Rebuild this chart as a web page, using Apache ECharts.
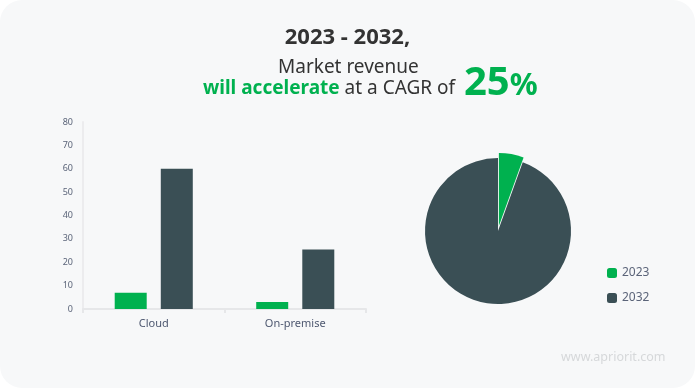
<!DOCTYPE html>
<html>
<head>
<meta charset="utf-8">
<script src="https://cdn.jsdelivr.net/npm/echarts@6/dist/echarts.min.js"></script>
<style>
html,body{margin:0;padding:0;background:#ffffff;}
#c{width:695px;height:388px;}
</style>
</head>
<body>
<div id="c"></div>
<script>
const categories = ['Cloud', 'On-premise'];
const seriesNames = ['2023', '2032'];
const values2023 = [7, 3];
const values2032 = [60, 25.5];
const pieValues = [5.5, 94.5];
const yTicks = {min: 0, max: 80, interval: 10};
const colors = ['#00b14f', '#3a4f55'];

const chart = echarts.init(document.getElementById('c'), null, {renderer: 'canvas'});
const FONT = '"Noto Sans", sans-serif';
chart.setOption({
  animation: false,
  backgroundColor: 'transparent',
  color: colors,
  graphic: [
    {type: 'rect', z: -10, shape: {x: 0, y: 0, width: 695, height: 388, r: 22}, style: {fill: '#f7f8f9'}},
    {type: 'text', left: 'center', top: 27, style: {text: '2023 - 2032,', fontFamily: FONT, fontWeight: 'bold', fontSize: 22, fill: '#333333'}},
    {type: 'text', left: 278, top: 58, style: {text: 'Market revenue', fontFamily: FONT, fontSize: 19, fill: '#333333'}},
    {type: 'text', left: 203, top: 64, style: {
      text: '{g|will accelerate}{n| at a CAGR of }{b|25}{p|%}',
      fontFamily: FONT,
      rich: {
        g: {fontFamily: FONT, fontWeight: 'bold', fontSize: 19, fill: '#00b14f', verticalAlign: 'bottom', padding: [0,0,4,0]},
        n: {fontFamily: FONT, fontSize: 19, fill: '#333333', verticalAlign: 'bottom', padding: [0,0,4,0]},
        b: {fontFamily: FONT, fontWeight: 'bold', fontSize: 40, fill: '#00b14f', verticalAlign: 'bottom', padding: [0,0,-2,4]},
        p: {fontFamily: FONT, fontWeight: 'bold', fontSize: 31, fill: '#00b14f', verticalAlign: 'bottom', padding: [0,0,0,0]}
      }
    }},
    {type: 'text', left: 561, top: 351, style: {text: 'www.apriorit.com', fontFamily: FONT, fontSize: 12.5, fill: '#d6d8da'}}
  ],
  legend: {
    orient: 'vertical', left: 602, top: 262, itemWidth: 10, itemHeight: 10, itemGap: 13,
    icon: 'roundRect',
    data: seriesNames,
    textStyle: {fontFamily: FONT, fontSize: 12, color: '#5b6479'}
  },
  grid: {left: 83, top: 122, width: 283, height: 187},
  xAxis: {
    type: 'category', data: categories,
    axisLine: {lineStyle: {color: '#e6e7e9', width: 2}},
    axisTick: {show: true, length: 4, lineStyle: {color: '#e6e7e9', width: 2}},
    axisLabel: {fontFamily: FONT, fontSize: 11, color: '#4e5870', margin: 9}
  },
  yAxis: {
    type: 'value', min: yTicks.min, max: yTicks.max, interval: yTicks.interval,
    axisLine: {show: true, lineStyle: {color: '#ececee', width: 2}},
    axisTick: {show: false},
    splitLine: {show: false},
    axisLabel: {fontFamily: FONT, fontSize: 9, color: '#5b6479', margin: 10}
  },
  series: [
    {name: seriesNames[0], type: 'bar', data: values2023, barWidth: 32, barGap: '44%', itemStyle: {color: colors[0]}},
    {name: seriesNames[1], type: 'bar', data: values2032, barWidth: 32, itemStyle: {color: colors[1]}},
    {
      type: 'pie', center: [498, 231], radius: 73, startAngle: 90, clockwise: true,
      selectedMode: 'single', selectedOffset: 5,
      label: {show: false}, labelLine: {show: false},
      data: [
        {name: seriesNames[0], value: pieValues[0], selected: true, itemStyle: {color: colors[0]}},
        {name: seriesNames[1], value: pieValues[1], itemStyle: {color: colors[1]}}
      ]
    }
  ]
});
</script>
</body>
</html>
